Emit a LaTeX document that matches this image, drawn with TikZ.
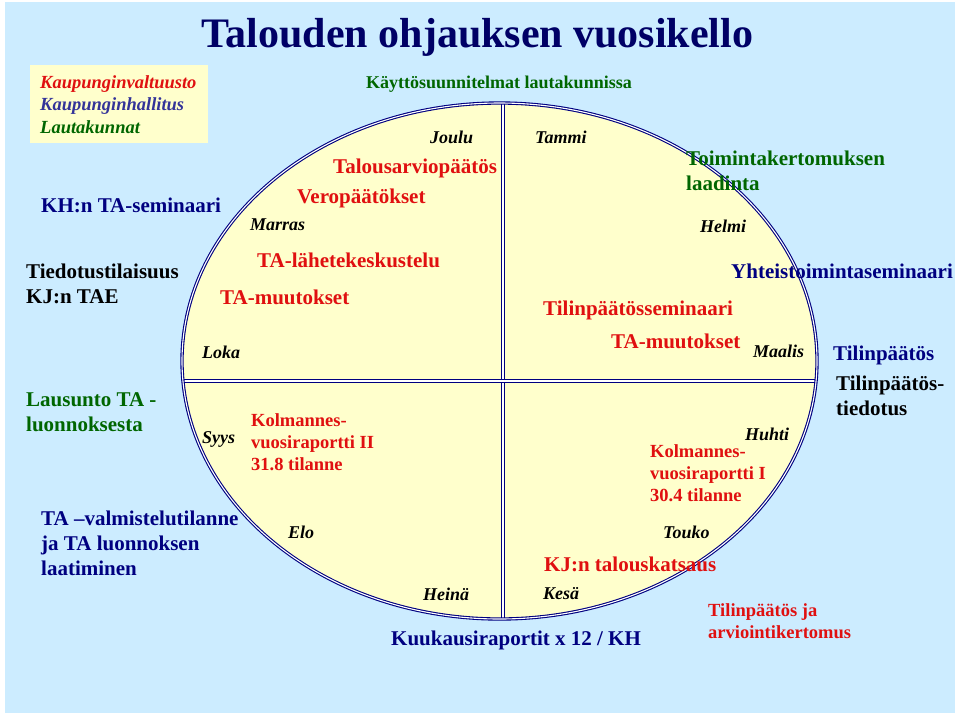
\documentclass[tikz,border=0pt]{standalone}
\usepackage{fontspec}
\setmainfont{Liberation Serif}
\definecolor{bgblue}{RGB}{204,236,255}
\definecolor{paleyellow}{RGB}{255,255,204}
\definecolor{rimnavy}{RGB}{0,0,128}
\definecolor{titlenavy}{RGB}{0,0,102}
\definecolor{lblred}{RGB}{224,16,16}
\definecolor{lblgreen}{RGB}{0,102,0}
\definecolor{lblviolet}{RGB}{51,51,153}
\begin{document}
\begin{tikzpicture}[
x=1pt, y=-1pt,
every node/.style={inner sep=0pt, anchor=base west, align=left},
big/.style={font=\fontsize{21}{25}\selectfont\bfseries},
small/.style={font=\fontsize{18.5}{22}\selectfont\bfseries},
legend/.style={font=\fontsize{18.5}{22}\selectfont\bfseries\itshape},
month/.style={font=\fontsize{18}{22}\selectfont\bfseries\itshape, text=black},
rim/.style={draw=rimnavy, double=white, line width=1.1pt, double distance=1.1pt}
]
\useasboundingbox (0,0) rectangle (960,716);
\fill[white] (0,0) rectangle (960,716);
\fill[bgblue] (5,2) rectangle (955,713);
\fill[paleyellow] (30,65) rectangle (208,143);

% the year wheel
\fill[paleyellow] (499.5,361) ellipse [x radius=317.5, y radius=258];
\begin{scope}
\clip (499.5,361) ellipse [x radius=317.5, y radius=258];
\draw[rim] (503,90) -- (503,630);
\draw[rim] (170,381) -- (830,381);
\end{scope}
\draw[rim] (499.5,361) ellipse [x radius=317.5, y radius=258];

\node[font=\fontsize{42}{48}\selectfont\bfseries, text=titlenavy, anchor=base] (title) at (477.5,47) {Talouden ohjauksen vuosikello};

% legend
\node[legend, text=lblred] (valtuusto) at (40,88) {Kaupunginvaltuusto};
\node[legend, text=lblviolet] (hallitus) at (40,110) {Kaupunginhallitus};
\node[legend, text=lblgreen] (lautakunnat) at (40,133) {Lautakunnat};

% outside the wheel (multi-line: y is the last line)
\node[font=\fontsize{18}{22}\selectfont\bfseries, text=lblgreen, anchor=base] (kaytto) at (499,88) {Käyttösuunnitelmat lautakunnissa};
\node[big, text=rimnavy] (khseminaari) at (41,212) {KH:n TA-seminaari};
\node[big] (tiedotus) at (26,303) {Tiedotustilaisuus\\KJ:n TAE};
\node[big, text=lblgreen] (lausunto) at (26,431) {Lausunto TA -\\luonnoksesta};
\node[big, text=rimnavy] (valmistelu) at (41,575) {TA –valmistelutilanne\\ja TA luonnoksen\\laatiminen};
\node[big, text=rimnavy] (kuukausi) at (391,645) {Kuukausiraportit x 12 / KH};
\node[big, text=lblgreen] (toimintak) at (686,190) {Toimintakertomuksen\\laadinta};
\node[big, text=rimnavy] (yhteis) at (731,278) {Yhteistoimintaseminaari};
\node[big, text=rimnavy] (tpaatos) at (833,360) {Tilinpäätös};
\node[big] (tpaatostied) at (836,415) {Tilinpäätös-\\tiedotus};
\node[small, text=lblred] (arviointi) at (708,638) {Tilinpäätös ja\\arviointikertomus};

% months
\node[month] (joulu) at (430,143) {Joulu};
\node[month] (marras) at (250,230) {Marras};
\node[month] (loka) at (202,358) {Loka};
\node[month] (syys) at (202,443) {Syys};
\node[month] (elo) at (288,538) {Elo};
\node[month] (heina) at (423,600) {Heinä};
\node[month] (tammi) at (535,143) {Tammi};
\node[month] (helmi) at (700,232) {Helmi};
\node[month] (maalis) at (753,357) {Maalis};
\node[month] (huhti) at (745,440) {Huhti};
\node[month] (touko) at (663,538) {Touko};
\node[month] (kesa) at (543,599) {Kesä};

% events inside the wheel
\node[big, text=lblred] (tapaatos) at (333,173) {Talousarviopäätös};
\node[big, text=lblred] (vero) at (297,203) {Veropäätökset};
\node[big, text=lblred] (lahete) at (257,267) {TA-lähetekeskustelu};
\node[big, text=lblred] (muutoksetA) at (220,304) {TA-muutokset};
\node[small, text=lblred] (osavuosiII) at (251,470) {Kolmannes-\\vuosiraportti II\\31.8 tilanne};
\node[big, text=lblred] (tpseminaari) at (543,315) {Tilinpäätösseminaari};
\node[big, text=lblred] (muutoksetB) at (611,348) {TA-muutokset};
\node[small, text=lblred] (osavuosiI) at (650,501) {Kolmannes-\\vuosiraportti I\\30.4 tilanne};
\node[big, text=lblred] (katsaus) at (544,571) {KJ:n talouskatsaus};
\end{tikzpicture}
\end{document}
